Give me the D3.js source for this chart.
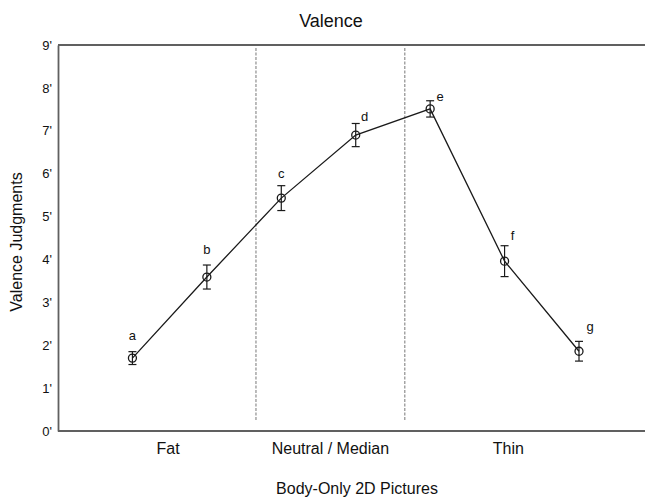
<!DOCTYPE html>
<html>
<head>
<meta charset="utf-8">
<script src="https://cdn.jsdelivr.net/npm/d3@7"></script>
<style>
  html, body { margin: 0; padding: 0; background: #fff; }
  text { font-family: 'Liberation Sans', Arial, sans-serif; fill: #111; }
</style>
</head>
<body>
<div id="chart"></div>
<script>
// picture letters, mean valence and error bar half-width
const pictures = ['a', 'b', 'c', 'd', 'e', 'f', 'g'];
const means = [1.70, 3.59, 5.43, 6.90, 7.51, 3.96, 1.86];
const errors = [0.15, 0.28, 0.29, 0.27, 0.19, 0.36, 0.23];
const groups = ['Fat', 'Neutral / Median', 'Thin'];
const yTicks = [0, 1, 2, 3, 4, 5, 6, 7, 8, 9];

let width = 645;
let height = 501;
let plotTop = 45;
let plotBottom = 431;
let plotLeft = 58;

// where the group names and dividers sit, in picture-index units
let groupCenters = [0.48, 2.66, 5.05];
let dividers = [1.66, 3.66];
// letter nudges [dx, dy] from the top of each error bar
let nudge = [[0, -12], [0, -11], [0, -8], [9, -2], [10, 0], [8, -6], [11, -10]];

let data = pictures.map((p, i) => ({ i: i, name: p, m: means[i], e: errors[i] }));

/* Scale */
let x = d3.scaleLinear().domain([-1, 6]).range([plotLeft, 579]);
let y = d3.scaleLinear().domain([0, 9]).range([plotBottom, plotTop]);

let svg = d3.select('#chart')
  .append('svg')
  .attr('width', width)
  .attr('height', height);

/* Frame: top rule and axes */
svg.append('line')
  .attr('x1', plotLeft).attr('x2', width)
  .attr('y1', y(9)).attr('y2', y(9))
  .attr('stroke', '#606060').attr('stroke-width', 1.8);

let yAxis = d3.axisLeft(y)
  .tickValues(yTicks)
  .tickSize(0)
  .tickPadding(6)
  .tickFormat(d => d + "'");

svg.append('g')
  .attr('class', 'y axis')
  .attr('transform', `translate(${plotLeft},0)`)
  .call(yAxis)
  .call(g => g.select('.domain').attr('stroke', '#606060').attr('stroke-width', 1.8))
  .call(g => g.selectAll('text')
    .style('font-size', '13px')
    .style('fill', '#111'));

svg.append('line')
  .attr('x1', plotLeft).attr('x2', width)
  .attr('y1', y(0)).attr('y2', y(0))
  .attr('stroke', '#606060').attr('stroke-width', 1.8);

/* Dividers */
svg.selectAll('.divider')
  .data(dividers)
  .enter()
  .append('line')
  .attr('class', 'divider')
  .attr('x1', d => x(d)).attr('x2', d => x(d))
  .attr('y1', y(9) + 3).attr('y2', y(0) - 11)
  .attr('stroke', '#777')
  .attr('stroke-width', 1)
  .attr('stroke-dasharray', '3,1.5');

/* Line */
let line = d3.line()
  .x(d => x(d.i))
  .y(d => y(d.m));

svg.append('path')
  .datum(data)
  .attr('d', line)
  .attr('fill', 'none')
  .attr('stroke', '#1a1a1a')
  .attr('stroke-width', 1.3);

/* Error bars */
let bars = svg.selectAll('.err')
  .data(data)
  .enter()
  .append('g')
  .attr('class', 'err')
  .attr('stroke', '#1a1a1a')
  .attr('stroke-width', 1.2);

bars.append('line')
  .attr('x1', d => x(d.i)).attr('x2', d => x(d.i))
  .attr('y1', d => y(d.m - d.e)).attr('y2', d => y(d.m + d.e));
bars.append('line')
  .attr('x1', d => x(d.i) - 4).attr('x2', d => x(d.i) + 4)
  .attr('y1', d => y(d.m + d.e)).attr('y2', d => y(d.m + d.e));
bars.append('line')
  .attr('x1', d => x(d.i) - 4).attr('x2', d => x(d.i) + 4)
  .attr('y1', d => y(d.m - d.e)).attr('y2', d => y(d.m - d.e));

/* Markers */
svg.selectAll('.dot')
  .data(data)
  .enter()
  .append('circle')
  .attr('class', 'dot')
  .attr('cx', d => x(d.i))
  .attr('cy', d => y(d.m))
  .attr('r', 4)
  .attr('fill', 'none')
  .attr('stroke', '#1a1a1a')
  .attr('stroke-width', 1.3);

/* Letters */
svg.selectAll('.letter')
  .data(data)
  .enter()
  .append('text')
  .attr('class', 'letter')
  .attr('x', d => x(d.i) + nudge[d.i][0])
  .attr('y', d => y(d.m + d.e) + nudge[d.i][1])
  .attr('text-anchor', 'middle')
  .attr('font-size', 13)
  .text(d => d.name);

/* Group labels */
svg.selectAll('.group')
  .data(groups)
  .enter()
  .append('text')
  .attr('class', 'group')
  .attr('x', (d, i) => x(groupCenters[i]))
  .attr('y', 454)
  .attr('text-anchor', 'middle')
  .attr('font-size', 16)
  .text(d => d);

/* Titles */
svg.append('text')
  .attr('x', 331)
  .attr('y', 27)
  .attr('text-anchor', 'middle')
  .attr('font-size', 18)
  .text('Valence');

svg.append('text')
  .attr('x', 357)
  .attr('y', 494)
  .attr('text-anchor', 'middle')
  .attr('font-size', 16)
  .text('Body-Only 2D Pictures');

svg.append('text')
  .attr('transform', `translate(22, ${(plotTop + plotBottom) / 2 + 4}) rotate(-90)`)
  .attr('text-anchor', 'middle')
  .attr('font-size', 16)
  .text('Valence Judgments');
</script>
</body>
</html>
